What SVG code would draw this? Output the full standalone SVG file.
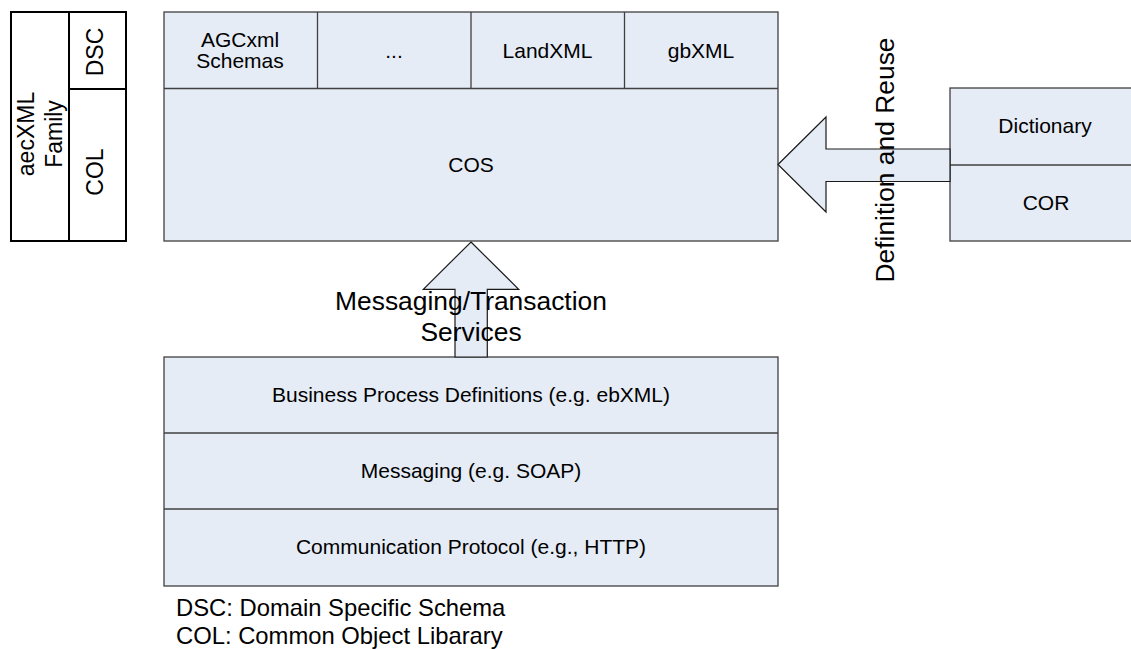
<svg xmlns="http://www.w3.org/2000/svg" width="1131" height="649" viewBox="0 0 1131 649">
<style>
.box{fill:#E5ECF6;stroke:#404040;stroke-width:1.3}
.blk{fill:#FFFFFF;stroke:#000000;stroke-width:2}
.ln{stroke:#404040;stroke-width:1.3;fill:none}
.lnb{stroke:#000000;stroke-width:2;fill:none}
.arr{fill:#E5ECF6;stroke:#1a1a1a;stroke-width:1.2}
text{font-family:"Liberation Sans",Arial,sans-serif;fill:#000000}
.t21{font-size:21px;text-anchor:middle}
.t23{font-size:23px;text-anchor:middle}
.t26{font-size:26.4px;text-anchor:middle}
.t24{font-size:23.8px}
</style>
<rect width="1131" height="649" fill="#FFFFFF"/>

<g id="aecxml-family">
  <rect class="blk" x="11" y="12" width="115" height="229"/>
  <line class="lnb" x1="69" y1="12" x2="69" y2="241"/>
  <line class="lnb" x1="69" y1="89" x2="126" y2="89"/>
  <text class="t23" transform="translate(33.5,134) rotate(-90)">aecXML</text>
  <text class="t23" transform="translate(62,134) rotate(-90)">Family</text>
  <text class="t23" transform="translate(102.5,52) rotate(-90)">DSC</text>
  <text class="t23" transform="translate(102.5,172) rotate(-90)">COL</text>
</g>

<g id="cos">
  <rect class="box" x="164" y="12" width="614" height="229"/>
  <line class="ln" x1="164" y1="88.5" x2="778" y2="88.5"/>
  <line class="ln" x1="317.5" y1="12" x2="317.5" y2="88.5"/>
  <line class="ln" x1="471" y1="12" x2="471" y2="88.5"/>
  <line class="ln" x1="624.5" y1="12" x2="624.5" y2="88.5"/>
  <text class="t21" x="240" y="47">AGCxml</text>
  <text class="t21" x="240" y="68">Schemas</text>
  <text class="t21" x="394" y="58">...</text>
  <text class="t21" x="547.5" y="58">LandXML</text>
  <text class="t21" x="701" y="58">gbXML</text>
  <text class="t21" x="471" y="172">COS</text>
</g>

<g id="dictionary-cor">
  <rect class="box" x="950" y="88" width="192" height="153"/>
  <line class="ln" x1="950" y1="165" x2="1142" y2="165"/>
  <text class="t21" x="1045" y="133">Dictionary</text>
  <text class="t21" x="1046" y="210">COR</text>
</g>

<g id="messaging-stack">
  <rect class="box" x="164" y="357" width="614" height="229"/>
  <line class="ln" x1="164" y1="433" x2="778" y2="433"/>
  <line class="ln" x1="164" y1="509" x2="778" y2="509"/>
  <text class="t21" x="471" y="402">Business Process Definitions (e.g. ebXML)</text>
  <text class="t21" x="471" y="478">Messaging (e.g. SOAP)</text>
  <text class="t21" x="471" y="554">Communication Protocol (e.g., HTTP)</text>
</g>

<g id="connectors">
  <polygon class="arr" points="778,164.5 826,117 826,149 950,149 950,181.5 826,181.5 826,212"/>
  <polygon class="arr" points="471,242 518.7,289.3 487.3,289.3 487.3,357 455,357 455,289.3 423.3,289.3"/>
  <text class="t26" transform="translate(894,160) rotate(-90)">Definition and Reuse</text>
  <text class="t26" x="471" y="310">Messaging/Transaction</text>
  <text class="t26" x="471" y="341">Services</text>
</g>

<g id="legend">
  <text class="t24" x="176" y="616">DSC: Domain Specific Schema</text>
  <text class="t24" x="176" y="643.5">COL: Common Object Libarary</text>
</g>
</svg>
